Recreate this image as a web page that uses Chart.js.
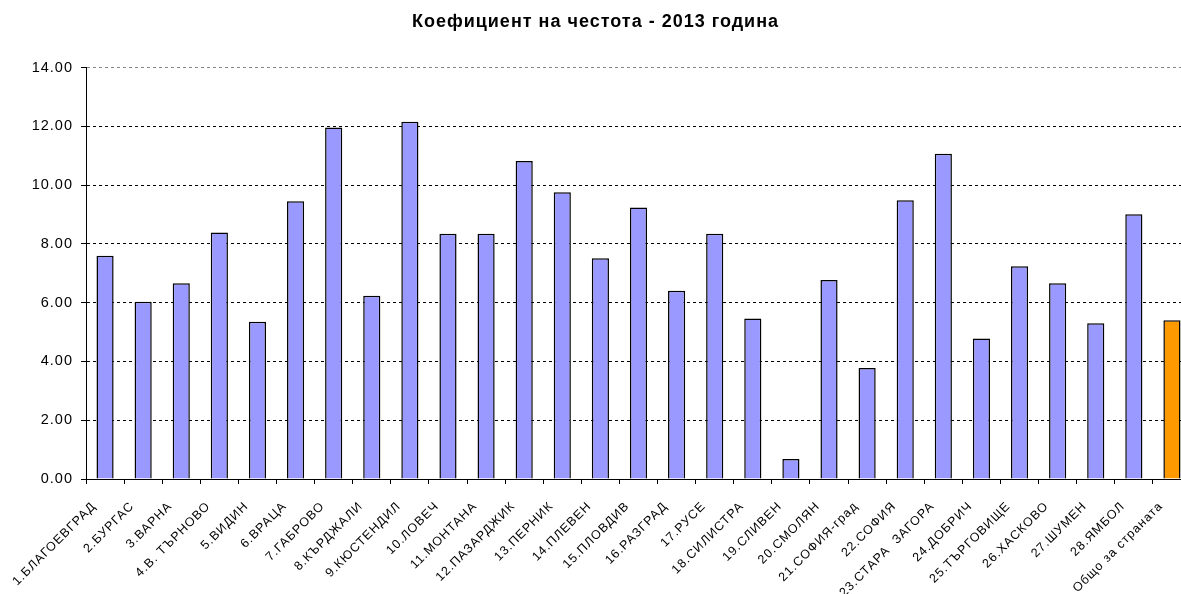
<!DOCTYPE html>
<html lang="bg">
<head>
  <meta charset="UTF-8">
  <title>Коефициент на честота - 2013 година</title>
  <script src="https://cdn.jsdelivr.net/npm/chart.js"></script>
  <style>
    body {
      margin: 0;
      background-color: #ffffff;
      overflow: hidden;
    }
  </style>
</head>
<body>
  <canvas id="chart" width="1200" height="594"></canvas>

  <script>
    const regions = [
      '1.БЛАГОЕВГРАД', '2.БУРГАС', '3.ВАРНА', '4.В. ТЪРНОВО', '5.ВИДИН', '6.ВРАЦА',
      '7.ГАБРОВО', '8.КЪРДЖАЛИ', '9.КЮСТЕНДИЛ', '10.ЛОВЕЧ', '11.МОНТАНА', '12.ПАЗАРДЖИК',
      '13.ПЕРНИК', '14.ПЛЕВЕН', '15.ПЛОВДИВ', '16.РАЗГРАД', '17.РУСЕ', '18.СИЛИСТРА',
      '19.СЛИВЕН', '20.СМОЛЯН', '21.СОФИЯ-град', '22.СОФИЯ', '23.СТАРА  ЗАГОРА', '24.ДОБРИЧ',
      '25.ТЪРГОВИЩЕ', '26.ХАСКОВО', '27.ШУМЕН', '28.ЯМБОЛ', 'Общо за страната'
    ];
    const rates = [
      7.60, 6.03, 6.66, 8.39, 5.35, 9.45, 11.96, 6.24, 12.16, 8.35, 8.35, 10.82,
      9.76, 7.51, 9.24, 6.41, 8.35, 5.46, 0.68, 6.77, 3.78, 9.49, 11.07, 4.78,
      7.24, 6.66, 5.30, 9.01, 5.40
    ];
    const yTicks = [0, 2, 4, 6, 8, 10, 12, 14];

    const barColors = regions.map(r => r === 'Общо за страната' ? '#FF9900' : '#9999FF');
    const fontFamily = 'Liberation Sans, Arial, sans-serif';

    // Excel-like wider letter spacing for all chart text
    const spacing = {
      id: 'spacing',
      beforeUpdate: chart => { chart.ctx.letterSpacing = '1px'; },
      beforeDraw: chart => { chart.ctx.letterSpacing = '1px'; },
    };

    const ctx = document.getElementById('chart').getContext('2d');
    new Chart(ctx, {
      type: 'bar',
      data: {
        labels: regions,
        datasets: [{
          data: rates,
          backgroundColor: barColors,
          borderColor: '#000000',
          borderWidth: 1.5,
          barPercentage: 0.45,
          categoryPercentage: 1.0,
        }],
      },
      plugins: [spacing],
      options: {
        responsive: false,
        animation: false,
        layout: { padding: { left: 0, right: 9, top: 4, bottom: 0 } },
        plugins: {
          legend: { display: false },
          tooltip: { enabled: false },
          title: {
            display: true,
            text: 'Коефициент на честота - 2013 година',
            color: '#000000',
            font: { family: fontFamily, size: 18, weight: 'bold' },
            padding: { top: 7, bottom: 35 },
          },
        },
        scales: {
          x: {
            // labels run off the bottom edge, as in the original
            afterFit: axis => { axis.height = 115; },
            grid: {
              drawOnChartArea: false,
              drawTicks: true,
              tickLength: 5,
              color: '#000000',
              offset: true,
            },
            border: { display: true, color: '#000000', width: 1 },
            ticks: {
              color: '#000000',
              maxRotation: 45,
              minRotation: 45,
              autoSkip: false,
              padding: 15,
              labelOffset: -11,
              font: { family: fontFamily, size: 12.5 },
            },
          },
          y: {
            min: 0,
            max: 14,
            afterFit: axis => { axis.width = 86; },
            afterBuildTicks: axis => { axis.ticks = yTicks.map(v => ({ value: v })); },
            grid: {
              color: c => c.tick && c.tick.value === 14 ? '#888888' : '#000000',
              lineWidth: 1,
              tickLength: 5,
              tickColor: '#000000',
            },
            border: { display: true, color: '#000000', width: 1, dash: [3, 3] },
            ticks: {
              color: '#000000',
              padding: 8,
              callback: v => v.toFixed(2),
              font: { family: fontFamily, size: 14.5 },
            },
          },
        },
      },
    });
  </script>
</body>
</html>
